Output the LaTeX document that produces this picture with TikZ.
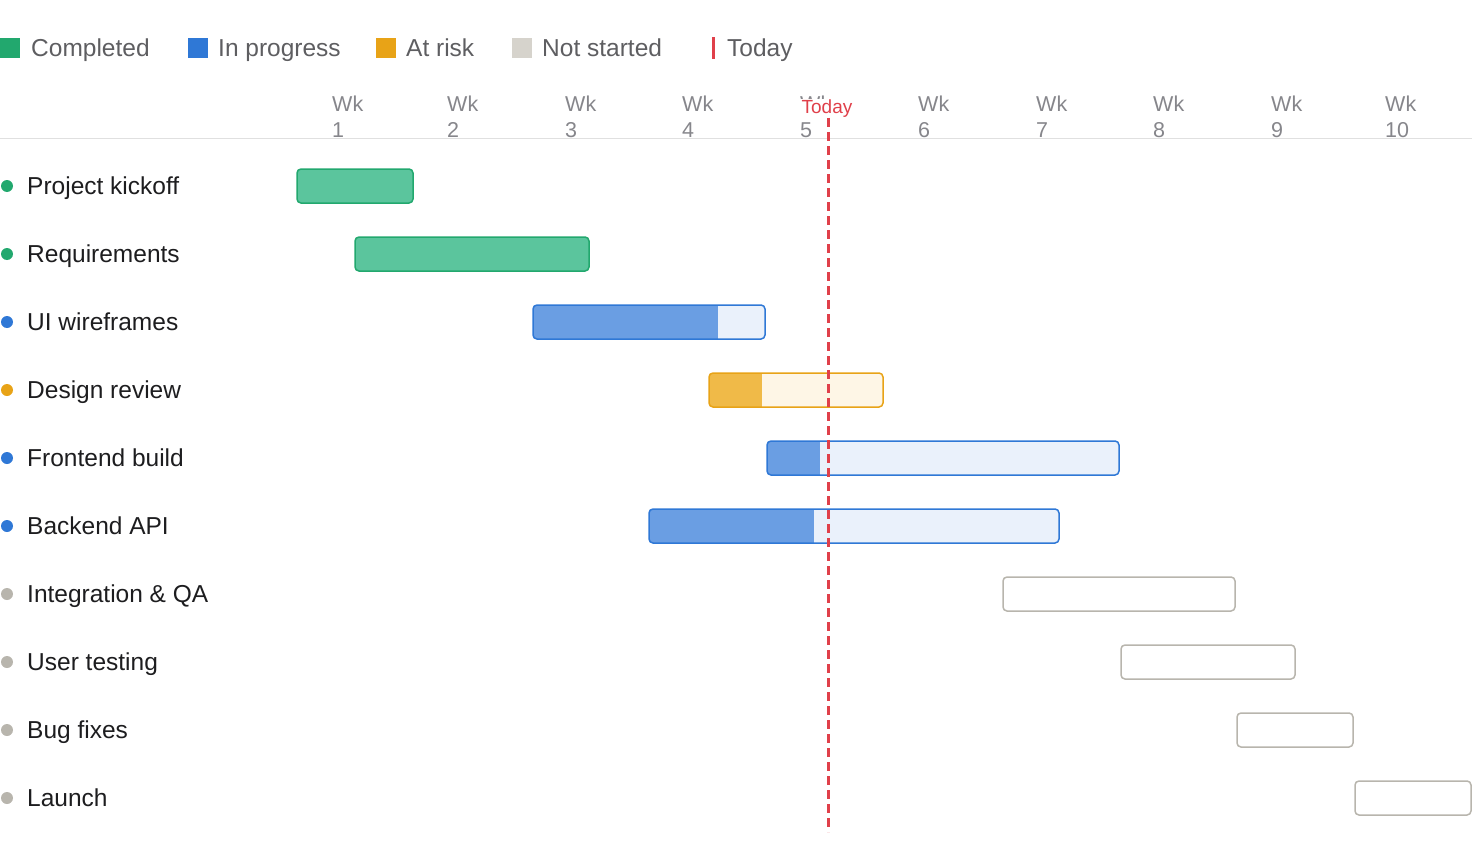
\documentclass[tikz,border=0pt]{standalone}
\usepackage{fontspec}
\setmainfont{Liberation Sans}
\definecolor{gF}{HTML}{5BC59D}\definecolor{gB}{HTML}{22A86E}
\definecolor{bF}{HTML}{6A9EE3}\definecolor{bL}{HTML}{EAF1FB}\definecolor{bB}{HTML}{2F78D6}
\definecolor{oF}{HTML}{F0BA48}\definecolor{oL}{HTML}{FEF6E6}\definecolor{oB}{HTML}{E8A317}
\definecolor{nB}{HTML}{B8B5AD}\definecolor{nS}{HTML}{D6D3CC}
\definecolor{tx}{HTML}{1D1D1F}\definecolor{hd}{HTML}{86868B}\definecolor{rd}{HTML}{E0404A}
\begin{document}
\begin{tikzpicture}[x=1pt,y=-1pt,
 lbl/.style={anchor=base west,text=tx,font=\fontsize{24.5}{26}\selectfont,inner sep=0},
 leg/.style={anchor=base west,text=hd!70!black,font=\fontsize{24.5}{26}\selectfont,inner sep=0},
 wk/.style={anchor=base west,text=hd,font=\fontsize{21.5}{23}\selectfont,inner sep=0}]
\useasboundingbox (0,0) rectangle (1472,864);
% legend
\fill[gB] (0,38) rectangle (20,58); \node[leg] (l1) at (31,56.5) {Completed};
\fill[bB] (188,38) rectangle (208,58); \node[leg] (l2) at (218,56.5) {In progress};
\fill[oB] (376,38) rectangle (396,58); \node[leg] (l3) at (406,56.5) {At risk};
\fill[nS] (512,38) rectangle (532,58); \node[leg] (l4) at (542,56.5) {Not started};
\fill[rd] (711.5,37) rectangle (714.5,59); \node[leg] (l5) at (727,56.5) {Today};
% header
\foreach \x [count=\i] in {332,447,565,682,800,918,1036,1153,1271,1385}{
 \node[wk] (w\i) at (\x,112) {Wk};
 \node[wk] (n\i) at (\x,138) {\i};}
\draw[black!12,line width=1.2] (0,138.5) -- (1472,138.5);
% rows
\foreach \y/\t/\c [count=\k] in {186/Project kickoff/gB,254/Requirements/gB,322/UI wireframes/bB,390/Design review/oB,458/Frontend build/bB,526/Backend API/bB,594/Integration \& QA/nB,662/User testing/nB,730/Bug fixes/nB,798/Launch/nB}{
 \fill[\c] (7,\y) circle (6);
 \node[lbl] (r\k) at (27,\y+8.5) {\t};}
% bars
\foreach \y/\a/\b/\p/\L/\D/\B in {186/297/413/413/gF/gF/gB,254/355/589/589/gF/gF/gB,322/533/765/718/bL/bF/bB,390/709/883/762/oL/oF/oB,458/767/1119/820/bL/bF/bB,526/649/1059/814/bL/bF/bB,594/1003/1235/1003/white/white/nB,662/1121/1295/1121/white/white/nB,730/1237/1353/1237/white/white/nB,798/1355/1471/1355/white/white/nB}{
 \begin{scope}
 \clip[rounded corners=4] (\a,\y-17) rectangle (\b,\y+17);
 \fill[\L] (\a,\y-17) rectangle (\b,\y+17);
 \fill[\D] (\a,\y-17) rectangle (\p,\y+17);
 \end{scope}
 \draw[\B,line width=1.5,rounded corners=4] (\a,\y-17) rectangle (\b,\y+17);}
% today
\node[anchor=base,text=rd,fill=white,font=\fontsize{19}{21}\selectfont,inner sep=1] (td) at (827,113.5) {Today};
\coordinate (t0) at (828,118); \coordinate (t1) at (828,832);
\draw[rd,line width=3,dash pattern=on 9 off 5] (t0) -- (t1);
\end{tikzpicture}
\end{document}
